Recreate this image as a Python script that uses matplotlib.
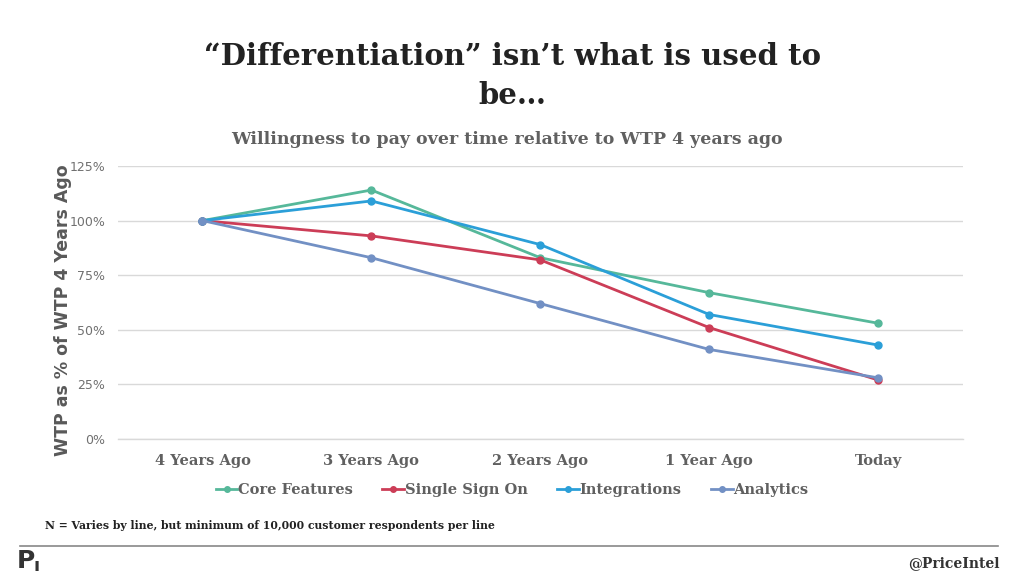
import numpy as np
import matplotlib.pyplot as plt
from matplotlib.lines import Line2D

# data
periods = ['4 Years Ago', '3 Years Ago', '2 Years Ago', '1 Year Ago', 'Today']
core_features = [100, 114, 83, 67, 53]
single_sign_on = [100, 93, 82, 51, 27]
integrations = [100, 109, 89, 57, 43]
analytics = [100, 83, 62, 41, 28]

series = [('Core Features', core_features, '#56b89a'),
          ('Single Sign On', single_sign_on, '#cc3d57'),
          ('Integrations', integrations, '#2b9fd8'),
          ('Analytics', analytics, '#7290c4')]

fig = plt.figure(figsize=(10.24, 5.76), dpi=100)
fig.patch.set_facecolor('white')

ax = fig.add_axes([0.1152, 0.2378, 0.825, 0.474])
x = np.arange(len(periods))
for name, vals, col in series:
    ax.plot(x, np.array(vals) / 100, '-o', color=col, lw=2, ms=5, label=name)

ax.set_xlim(-0.5, len(periods) - 0.5)
ax.set_ylim(0, 1.25)
ax.set_yticks([0, 0.25, 0.5, 0.75, 1.0, 1.25])
ax.set_yticklabels(['0%', '25%', '50%', '75%', '100%', '125%'], color='#707070', fontsize=9)
ax.set_xticks(x)
ax.set_xticklabels(periods, color='#606060', fontsize=10.5, fontweight='bold', family='DejaVu Serif')
ax.tick_params(length=0)
ax.tick_params(axis='x', pad=11)
ax.tick_params(axis='y', pad=9)
ax.grid(axis='y', color='#d9d9d9', lw=1)
ax.axhline(0, color='#d9d9d9', lw=1, clip_on=False, zorder=0)
ax.set_axisbelow(True)
for s in ax.spines.values():
    s.set_visible(False)

fig.text(0.062, 0.462, 'WTP as % of WTP 4 Years Ago', rotation=90, ha='center', va='center',
         fontsize=12.5, fontweight='bold', color='#595959')

fig.text(0.5, 0.868, '\u201cDifferentiation\u201d isn\u2019t what is used to\nbe\u2026', ha='center', va='center',
         fontsize=21, fontweight='bold', color='#222222', family='DejaVu Serif', linespacing=1.45)
fig.text(0.495, 0.757, 'Willingness to pay over time relative to WTP 4 years ago', ha='center', va='center',
         fontsize=12.5, fontweight='bold', color='#606060', family='DejaVu Serif')

handles = [Line2D([0], [0], color=c, lw=2, marker='o', ms=4) for _, _, c in series]
fig.legend(handles, [n for n, _, _ in series], loc='center', bbox_to_anchor=(0.5, 0.149), ncol=4,
           frameon=False, handlelength=1.5, handletextpad=0.05, columnspacing=2.0,
           prop={'family': 'DejaVu Serif', 'weight': 'bold', 'size': 10.5}, labelcolor='#606060')

fig.text(0.044, 0.087, 'N = Varies by line, but minimum of 10,000 customer respondents per line',
         ha='left', va='center', fontsize=7.8, fontweight='bold', color='#222222', family='DejaVu Serif')

fig.add_artist(Line2D([0.02, 0.975], [0.052, 0.052], color='#888888', lw=1.2))
fig.text(0.976, 0.022, '@PriceIntel', ha='right', va='center', fontsize=10, fontweight='bold',
         color='#333333', family='DejaVu Serif')
# logo
fig.text(0.025, 0.026, 'P', ha='center', va='center', fontsize=18, fontweight='heavy', color='#333333')
fig.text(0.036, 0.017, 'ı', ha='center', va='center', fontsize=13, fontweight='heavy', color='#333333')

fig.savefig('out.png', dpi=100)
